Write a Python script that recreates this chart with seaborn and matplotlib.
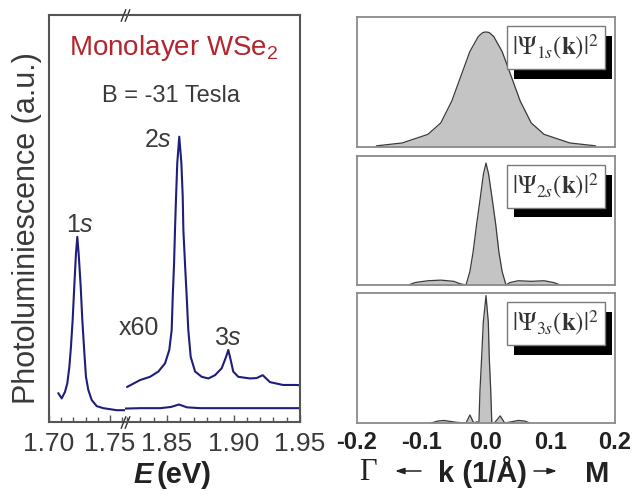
import numpy as np
import pandas as pd
import matplotlib
matplotlib.use("Agg")
import matplotlib.pyplot as plt
from matplotlib.patches import Rectangle, FancyArrowPatch
import seaborn as sns

# ---- data ----
# PL spectrum (full scale), energy in eV, intensity in a.u.
lower_e = [1.7076, 1.7104, 1.7131, 1.7150, 1.7167, 1.7180, 1.7194, 1.7207, 1.7221, 1.7232,
           1.7243, 1.7260, 1.7273, 1.7290, 1.7303, 1.7322, 1.7350, 1.7391, 1.7445, 1.7555,
           1.7620, 1.8185, 1.8300, 1.8450, 1.8530, 1.8590, 1.8650, 1.8750, 1.9000,
           1.9250, 1.9500]
lower_i = [0.071, 0.058, 0.074, 0.095, 0.136, 0.185, 0.251, 0.332, 0.414, 0.455,
           0.414, 0.332, 0.251, 0.169, 0.111, 0.079, 0.054, 0.039, 0.034, 0.029,
           0.029, 0.033, 0.034, 0.034, 0.037, 0.043, 0.036, 0.034, 0.034,
           0.034, 0.034]

# PL spectrum x60
upper_e = [1.8199, 1.8297, 1.8372, 1.8435, 1.8485, 1.8517, 1.8535, 1.8543, 1.8553, 1.8560,
           1.8568, 1.8577, 1.8592, 1.8608, 1.8618, 1.8623, 1.8635, 1.8648, 1.8660, 1.8678,
           1.8711, 1.8761, 1.8811, 1.8861, 1.8911, 1.8944, 1.8961, 1.8979, 1.8998, 1.9036,
           1.9124, 1.9174, 1.9220, 1.9274, 1.9372, 1.9475, 1.9500]
upper_i = [0.086, 0.103, 0.111, 0.124, 0.144, 0.177, 0.226, 0.308, 0.390, 0.472,
           0.554, 0.636, 0.701, 0.636, 0.554, 0.472, 0.390, 0.308, 0.226, 0.160,
           0.124, 0.111, 0.107, 0.115, 0.132, 0.160, 0.177, 0.152, 0.124, 0.111,
           0.107, 0.108, 0.115, 0.098, 0.091, 0.091, 0.090]

# |Psi(k)|^2 for 1s, 2s, 3s
k1 = [-0.17, -0.13, -0.09, -0.07, -0.053, -0.04, -0.025, -0.012, -0.005, 0.0, 0.005,
      0.012, 0.025, 0.04, 0.053, 0.07, 0.09, 0.13, 0.17]
p1 = [0.01, 0.035, 0.11, 0.21, 0.40, 0.60, 0.83, 0.96, 0.995, 1.0, 0.995,
      0.96, 0.83, 0.60, 0.40, 0.21, 0.11, 0.035, 0.01]

k2 = [-0.12, -0.11, -0.09, -0.07, -0.05, -0.04, -0.031, -0.025, -0.02, -0.0145,
      -0.009, -0.004, 0.0, 0.004, 0.0095, 0.015, 0.02, 0.025, 0.031, 0.037,
      0.05, 0.07, 0.09, 0.105, 0.115]
p2 = [0.0, 0.02, 0.035, 0.04, 0.03, 0.01, 0.0, 0.11, 0.27, 0.50,
      0.71, 0.91, 1.0, 0.91, 0.71, 0.50, 0.27, 0.11, 0.0, 0.02,
      0.035, 0.03, 0.035, 0.02, 0.0]

k3 = [-0.085, -0.075, -0.065, -0.055, -0.045, -0.031, -0.025, -0.019, -0.014, -0.011,
      -0.0093, -0.0067, -0.0042, 0.0, 0.0036, 0.005, 0.0073, 0.009, 0.013, 0.022,
      0.029, 0.04, 0.05, 0.06, 0.068]
p3 = [0.0, 0.015, 0.02, 0.012, 0.005, 0.0, 0.063, 0.0, 0.01, 0.0,
      0.26, 0.52, 0.79, 1.0, 0.79, 0.52, 0.26, 0.0, 0.0, 0.056,
      0.0, 0.01, 0.02, 0.015, 0.0]

states = ["1s", "2s", "3s"]
wave_k = [k1, k2, k3]
wave_p = [p1, p2, p3]
wave_ymax = [1.13, 1.058, 1.02]

left_ticks = [1.70, 1.75]
right_ticks = [1.85, 1.90, 1.95]
k_ticks = [-0.2, -0.1, 0.0, 0.1, 0.2]

sns.set_style("white")
plt.rcParams['font.family'] = ['Liberation Sans', 'DejaVu Sans']
plt.rcParams['mathtext.fontset'] = 'custom'
plt.rcParams['mathtext.rm'] = 'Liberation Sans'
plt.rcParams['mathtext.it'] = 'Liberation Sans:italic'
plt.rcParams['mathtext.bf'] = 'Liberation Sans:bold'

W, H = 642, 494
fig = plt.figure(figsize=(W / 100, H / 100), dpi=100)

def fx(px):
    return px / W

def fy(py):
    return 1 - py / H

line_col = "#1e1e7c"
frame_col = "#555555"
text_col = "#3a3a3a"
dark = "#222222"

# ---- left: broken-axis PL spectrum ----
ax_a = fig.add_axes([fx(49), fy(422), fx(125) - fx(49), fy(15) - fy(422)])
ax_b = fig.add_axes([fx(125), fy(422), fx(300) - fx(125), fy(15) - fy(422)])

spec_low = pd.DataFrame({"E": lower_e, "I": lower_i})
spec_up = pd.DataFrame({"E": upper_e, "I": upper_i})

for ax in (ax_a, ax_b):
    sns.lineplot(data=spec_low, x="E", y="I", ax=ax, color=line_col, lw=1.5)
    ax.set_ylim(0, 1)
    ax.set_yticks([])
    ax.set_xlabel("")
    ax.set_ylabel("")
    for s in ax.spines.values():
        s.set_color(frame_col)
        s.set_linewidth(1.5)
    ax.tick_params(axis="x", which="both", direction="in", bottom=True, top=False,
                   labelsize=19, labelcolor=text_col, color=frame_col, pad=7)
    ax.tick_params(axis="x", which="major", length=5, width=1)
    ax.tick_params(axis="x", which="minor", length=3.5, width=1)

sns.lineplot(data=spec_up, x="E", y="I", ax=ax_b, color=line_col, lw=1.5)
ax_b.set_xlabel("")
ax_b.set_ylabel("")

ax_a.set_xlim(1.70, 1.7623)
ax_b.set_xlim(1.8184, 1.95)
ax_a.set_xticks(left_ticks)
ax_a.set_xticklabels([f"{t:.2f}" for t in left_ticks])
ax_a.set_xticks(np.arange(1.70, 1.7601, 0.01), minor=True)
ax_b.set_xticks(right_ticks)
ax_b.set_xticklabels([f"{t:.2f}" for t in right_ticks])
ax_b.set_xticks(np.arange(1.82, 1.9501, 0.01), minor=True)
ax_a.spines["right"].set_visible(False)
ax_b.spines["left"].set_visible(False)

# break marks
for yy in (0, 1):
    for dx in (-0.012, 0.012):
        ax_b.plot([dx], [yy], transform=ax_b.transAxes, marker=[(-1, -2.5), (1, 2.5)],
                  markersize=9, mew=1, color="#333333", linestyle="none", clip_on=False)

fig.text(fx(174), fy(55), "Monolayer WSe$_2$", color="#b3262e", fontsize=20,
         ha="center", va="baseline")
fig.text(fx(171), fy(102), "B = -31 Tesla", color=text_col, fontsize=17,
         ha="center", va="baseline")
fig.text(fx(158), fy(147), "2$s$", color=text_col, fontsize=18, ha="center", va="baseline")
fig.text(fx(80), fy(232), "1$s$", color=text_col, fontsize=18, ha="center", va="baseline")
fig.text(fx(139), fy(335), "x60", color=text_col, fontsize=18, ha="center", va="baseline")
fig.text(fx(228), fy(345), "3$s$", color=text_col, fontsize=18, ha="center", va="baseline")

fig.text(fx(27), fy(228), "Photoluminiescence (a.u.)", rotation=90, color=text_col,
         fontsize=22, ha="center", va="center")
fig.text(fx(143), fy(483), "E", fontsize=21, fontweight="bold", fontstyle="italic",
         color=dark, ha="center", va="baseline")
fig.text(fx(157), fy(483), "(eV)", fontsize=21, fontweight="bold",
         color=dark, ha="left", va="baseline")

# ---- right: |Psi(k)|^2 panels ----
panel_rows = [(17, 147), (156, 285), (293, 423)]
for i, (top, bot) in enumerate(panel_rows):
    ax = fig.add_axes([fx(357), fy(bot), fx(615) - fx(357), fy(top) - fy(bot)])
    wf = pd.DataFrame({"k": wave_k[i], "p": wave_p[i]})
    ax.fill_between(wf["k"], 0, wf["p"], color="#c4c4c4", lw=0)
    sns.lineplot(data=wf, x="k", y="p", ax=ax, color="#3a3a3a", lw=0.9)
    ax.set_xlim(-0.2, 0.2)
    ax.set_ylim(0, wave_ymax[i])
    ax.set_yticks([])
    ax.set_xlabel("")
    ax.set_ylabel("")
    ax.set_xticks(k_ticks)
    ax.set_xticks(np.arange(-0.2, 0.201, 0.05), minor=True)
    for s in ax.spines.values():
        s.set_color("#8a8a8a")
        s.set_linewidth(1.3)
    ax.tick_params(axis="x", which="both", direction="in", length=3, width=1,
                   color="#8a8a8a", labelsize=17, pad=6)
    if i < 2:
        ax.set_xticklabels([])
    else:
        ax.set_xticklabels([f"{t:.1f}" for t in k_ticks], fontweight="bold",
                           color=dark)

    # label box with drop shadow
    bx0, bx1, by0, by1 = 0.58, 0.96, 0.60, 0.93
    ax.add_patch(Rectangle((bx0 + 0.03, by0 - 0.075), bx1 - bx0, by1 - by0,
                           transform=ax.transAxes, facecolor="black", edgecolor="none",
                           clip_on=False, zorder=5))
    ax.add_patch(Rectangle((bx0, by0), bx1 - bx0, by1 - by0, transform=ax.transAxes,
                           facecolor="white", edgecolor="#7a7a7a", lw=1,
                           clip_on=False, zorder=6))
    ax.text((bx0 + bx1) / 2, (by0 + by1) / 2,
            r"$|\Psi_{%s}(\mathbf{k})|^2$" % states[i], transform=ax.transAxes,
            fontsize=18, ha="center", va="center", color="#333333",
            math_fontfamily="stix", zorder=7)

fig.text(fx(368), fy(480), "Γ", fontsize=22, family="Liberation Serif",
         color=dark, ha="center", va="baseline")
fig.text(fx(482), fy(482), "k (1/Å)", fontsize=21, fontweight="bold",
         color=dark, ha="center", va="baseline")
fig.text(fx(597), fy(482), "M", fontsize=21, fontweight="bold",
         color=dark, ha="center", va="baseline")
for x0, x1 in ((421, 395), (534, 557)):
    fig.add_artist(FancyArrowPatch((fx(x0), fy(471)), (fx(x1), fy(471)),
                                   transform=fig.transFigure, color=dark, lw=1.1,
                                   arrowstyle="-|>,head_length=0.45,head_width=0.15",
                                   mutation_scale=12, shrinkA=0, shrinkB=0))

fig.savefig("out.png", dpi=100)
